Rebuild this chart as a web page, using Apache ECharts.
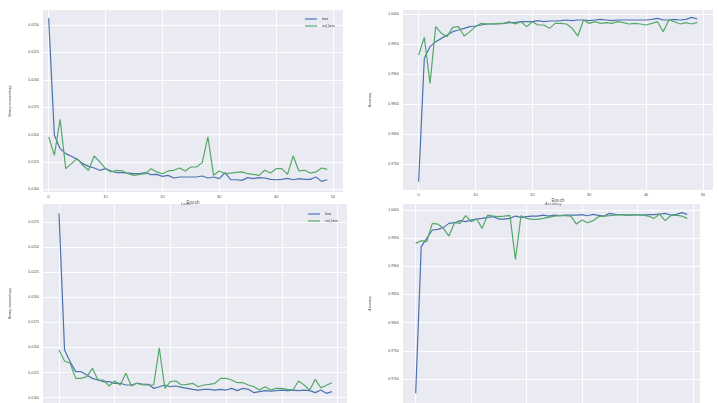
<!DOCTYPE html>
<html>
<head>
<meta charset="utf-8">
<script src="https://cdn.jsdelivr.net/npm/echarts@6/dist/echarts.min.js"></script>
<style>
html,body{margin:0;padding:0;background:#fff;}
#c{width:718px;height:403px;}
</style>
</head>
<body>
<div id="c"></div>
<script>
const epochs = [0,1,2,3,4,5,6,7,8,9,10,11,12,13,14,15,16,17,18,19,20,21,22,23,24,25,26,27,28,29,30,31,32,33,34,35,36,37,38,39,40,41,42,43,44,45,46,47,48,49];
const xTicks = [0,10,20,30,40,50];

// Top-left: loss
const lossTicksA = [0.0100,0.0125,0.0150,0.0175,0.0200,0.0225,0.0250];
const lossTrainA = [0.02561,0.01494,0.01372,0.01326,0.01302,0.01274,0.01235,0.01210,0.01195,0.01174,0.01189,0.01168,0.01152,0.01152,0.01149,0.01143,0.01143,0.01152,0.01134,0.01137,0.01119,0.01128,0.01104,0.01113,0.01113,0.01113,0.01113,0.01122,0.01104,0.01113,0.01098,0.01152,0.01088,0.01088,0.01082,0.01107,0.01098,0.01107,0.01104,0.01091,0.01088,0.01091,0.01101,0.01088,0.01098,0.01091,0.01091,0.01113,0.01073,0.01088];
const lossValA = [0.01479,0.01311,0.01640,0.01189,0.01235,0.01281,0.01220,0.01174,0.01305,0.01250,0.01189,0.01159,0.01174,0.01168,0.01143,0.01128,0.01137,0.01143,0.01189,0.01159,0.01143,0.01168,0.01174,0.01195,0.01168,0.01204,0.01204,0.01244,0.01479,0.01128,0.01168,0.01143,0.01149,0.01155,0.01159,0.01143,0.01137,0.01128,0.01174,0.01149,0.01189,0.01189,0.01137,0.01305,0.01168,0.01174,0.01149,0.01159,0.01195,0.01183];

// Top-right: accuracy
const accTicksA = [0.9750,0.9800,0.9850,0.9900,0.9950,1.0000];
const accTrainA = [0.97205,0.99261,0.99456,0.99539,0.99594,0.99650,0.99706,0.99733,0.99761,0.99789,0.99800,0.99817,0.99833,0.99833,0.99833,0.99844,0.99856,0.99856,0.99872,0.99872,0.99872,0.99889,0.99872,0.99883,0.99883,0.99889,0.99900,0.99889,0.99900,0.99900,0.99889,0.99900,0.99911,0.99900,0.99889,0.99900,0.99900,0.99900,0.99900,0.99900,0.99900,0.99911,0.99928,0.99900,0.99900,0.99911,0.99900,0.99911,0.99944,0.99917];
const accValA = [0.99317,0.99611,0.98844,0.99789,0.99678,0.99622,0.99778,0.99789,0.99633,0.99706,0.99789,0.99844,0.99833,0.99833,0.99844,0.99844,0.99872,0.99833,0.99872,0.99789,0.99872,0.99817,0.99817,0.99761,0.99844,0.99844,0.99833,0.99761,0.99633,0.99900,0.99844,0.99872,0.99844,0.99856,0.99844,0.99872,0.99856,0.99833,0.99844,0.99833,0.99817,0.99844,0.99872,0.99706,0.99900,0.99872,0.99833,0.99856,0.99833,0.99861];

// Bottom-left: loss
const lossTicksB = [0.0100,0.0125,0.0150,0.0175,0.0200,0.0225,0.0250,0.0275];
const lossTrainB = [0.02834,0.01474,0.01358,0.01259,0.01259,0.01225,0.01192,0.01176,0.01159,0.01159,0.01143,0.01143,0.01126,0.01126,0.01143,0.01136,0.01133,0.01093,0.01109,0.01126,0.01109,0.01116,0.01103,0.01093,0.01083,0.01076,0.01083,0.01083,0.01076,0.01083,0.01076,0.01093,0.01070,0.01093,0.01083,0.01050,0.01060,0.01070,0.01066,0.01070,0.01076,0.01070,0.01076,0.01070,0.01076,0.01070,0.01050,0.01076,0.01043,0.01060];
const lossValB = [0.01474,0.01365,0.01342,0.01192,0.01192,0.01209,0.01292,0.01176,0.01176,0.01116,0.01166,0.01126,0.01242,0.01116,0.01143,0.01126,0.01126,0.01126,0.01497,0.01093,0.01159,0.01166,0.01126,0.01133,0.01143,0.01109,0.01126,0.01133,0.01143,0.01192,0.01192,0.01176,0.01149,0.01149,0.01126,0.01109,0.01076,0.01109,0.01076,0.01093,0.01093,0.01083,0.01076,0.01166,0.01126,0.01076,0.01182,0.01099,0.01123,0.01149];

// Bottom-right: accuracy
const accTicksB = [0.9700,0.9750,0.9800,0.9850,0.9900,0.9950,1.0000];
const accTrainB = [0.96746,0.99349,0.99497,0.99645,0.99657,0.99692,0.99763,0.99775,0.99811,0.99793,0.99822,0.99840,0.99852,0.99870,0.99882,0.99840,0.99840,0.99852,0.99893,0.99870,0.99882,0.99893,0.99893,0.99911,0.99893,0.99911,0.99899,0.99911,0.99911,0.99911,0.99917,0.99899,0.99923,0.99905,0.99893,0.99941,0.99923,0.99917,0.99911,0.99911,0.99917,0.99911,0.99917,0.99917,0.99929,0.99941,0.99911,0.99923,0.99953,0.99923];
const accValB = [0.99408,0.99456,0.99438,0.99763,0.99751,0.99675,0.99538,0.99775,0.99763,0.99899,0.99793,0.99840,0.99675,0.99911,0.99893,0.99882,0.99893,0.99905,0.99124,0.99899,0.99852,0.99834,0.99834,0.99852,0.99870,0.99893,0.99899,0.99899,0.99893,0.99751,0.99822,0.99775,0.99811,0.99882,0.99893,0.99899,0.99911,0.99917,0.99911,0.99917,0.99917,0.99911,0.99893,0.99852,0.99929,0.99811,0.99899,0.99911,0.99893,0.99852];

const seriesNames = ['loss','val_loss'];
const BLUE = '#4C72B0', GREEN = '#55A868', BG = '#EAEAF2', TXT = '#555';

const grids = [
  {left:43, top:10, right:375, bottom:211},
  {left:403, top:10, right:5, bottom:213},
  {left:43, top:204, right:371, bottom:0},
  {left:403, top:204, right:18, bottom:0}
].map(g => Object.assign(g, {show:true, backgroundColor:BG, borderWidth:0, containLabel:false, outerBoundsMode:'none'}));

const xRanges = [[-1.0,51.76],[-2.75,51.76],[-2.87,51.7],[-2.29,51.3]];
const yRanges = [[0.00976,0.02637],[0.97067,1.000667],[0.00947,0.02927],[0.96574,1.00107]];
const yTickSets = [lossTicksA, accTicksA, lossTicksB, accTicksB];
const yNames = ['Binary crossentropy','Accuracy','Binary crossentropy','Accuracy'];

const xAxes = grids.map((g,i) => ({
  type:'value', gridIndex:i, min:xRanges[i][0], max:xRanges[i][1],
  axisLine:{show:false},
  axisTick:{show:false, customValues:xTicks},
  axisLabel:{customValues:xTicks, fontSize:4, color:TXT, margin:3},
  splitLine:{show:true, lineStyle:{color:'#fff', width:0.9}},
  name:'Epoch', nameLocation:'middle', nameGap:7,
  nameTextStyle:{fontSize:4.5, color:TXT}
}));

const yAxes = grids.map((g,i) => ({
  type:'value', gridIndex:i, min:yRanges[i][0], max:yRanges[i][1],
  axisLine:{show:false},
  axisTick:{show:false, customValues:yTickSets[i]},
  axisLabel:{customValues:yTickSets[i], fontSize:3.5, color:TXT, margin:4,
    formatter: v => v.toFixed(4)},
  splitLine:{show:true, lineStyle:{color:'#fff', width:0.9}},
  name:yNames[i], nameLocation:'middle', nameGap:31,
  nameTextStyle:{fontSize:3.5, color:'#444'}
}));

function mk(name, arr, idx, color) {
  return {
    name: name, type:'line', xAxisIndex:idx, yAxisIndex:idx,
    data: epochs.map((e,k) => [e, arr[k]]),
    showSymbol:false, symbol:'none', smooth:false,
    lineStyle:{color:color, width:1.2}, itemStyle:{color:color},
    animation:false
  };
}

const series = [
  mk(seriesNames[0], lossTrainA, 0, BLUE), mk(seriesNames[1], lossValA, 0, GREEN),
  mk(seriesNames[0], accTrainA, 1, BLUE), mk(seriesNames[1], accValA, 1, GREEN),
  mk(seriesNames[0], lossTrainB, 2, BLUE), mk(seriesNames[1], lossValB, 2, GREEN),
  mk(seriesNames[0], accTrainB, 3, BLUE), mk(seriesNames[1], accValB, 3, GREEN)
];

const legendBase = {
  orient:'vertical', data:seriesNames, icon:'rect', itemWidth:12, itemHeight:1.2,
  itemGap:3, textStyle:{fontSize:3.5, color:'#333'}, selectedMode:false
};

const chart = echarts.init(document.getElementById('c'), null, {renderer:'canvas'});
chart.setOption({
  backgroundColor:'#fff',
  animation:false,
  title:[
    {text:'Loss', left:176, top:197, textStyle:{fontSize:4, color:'#666', fontWeight:'normal'}},
    {text:'Accuracy', left:540, top:197, textStyle:{fontSize:4, color:'#666', fontWeight:'normal'}}
  ],
  legend:[
    Object.assign({left:300, top:12}, legendBase),
    Object.assign({left:303, top:207}, legendBase)
  ],
  grid:grids, xAxis:xAxes, yAxis:yAxes, series:series
});
</script>
</body>
</html>
